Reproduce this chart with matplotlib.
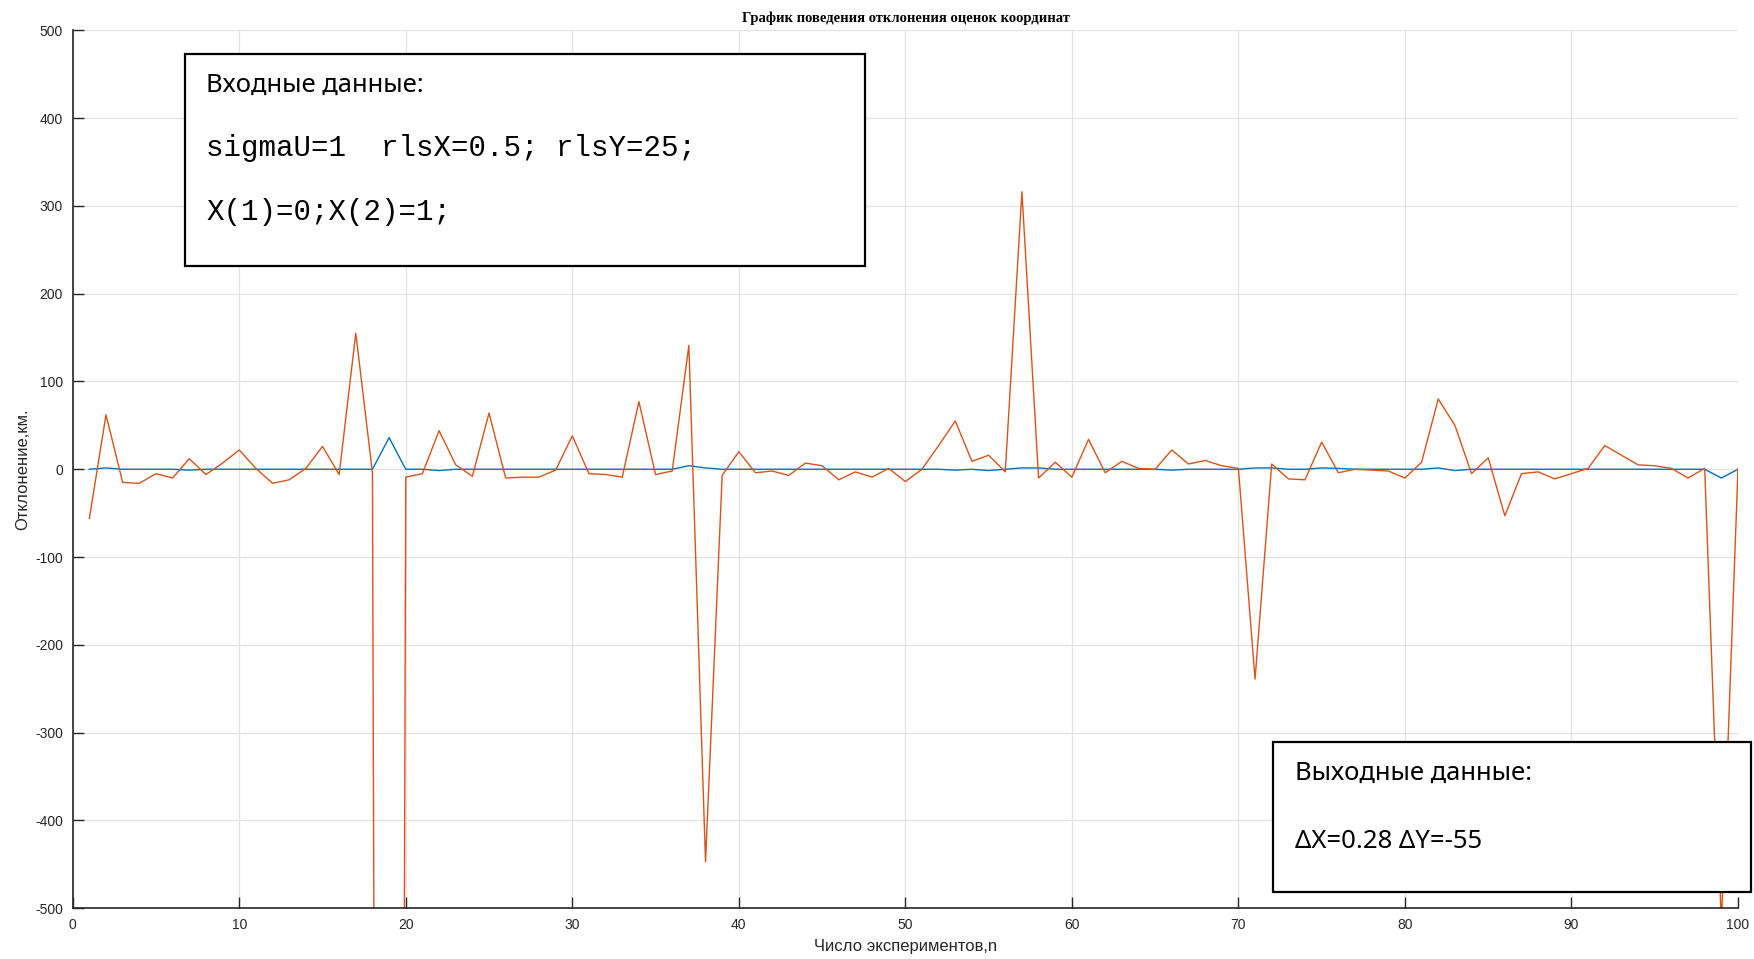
import matplotlib
matplotlib.use("Agg")
import matplotlib.pyplot as plt
from matplotlib.patches import Rectangle
import numpy as np

plt.rcParams["axes.unicode_minus"] = False

# номера экспериментов
n = np.arange(1, 101)

# отклонение по X (синяя линия)
dX = [0, 1.5, 0, 0, 0, 0, -1, 0, 0, 0,
      0, 0, 0, 0, 0, 0, 0, 0, 36, 0,
      0, -1.5, 0, 0, 0, 0, 0, 0, 0, 0,
      0, 0, 0, 0, 0, 0, 4, 1.5, 0, 0,
      0, 0, 0, 0, 0, 0, 0, 0, 0, 0,
      0, 0, -1, 0, -1.5, 0, 1.5, 1.5, 0, 0,
      0, 0, 0, 0, 0, -1, 0, 0, 0, 0,
      1.5, 1.5, 0, 0, 1.5, 1, 0, 0, 0, 0,
      0, 1.5, -1.5, 0, 0, 0, 0, 0, 0, 0,
      0, 0, 0, 0, 0, 0, 0, 0, -10, 0]

# отклонение по Y (оранжевая линия)
dY = [-56, 62, -15, -16, -5, -10, 12, -6, 7, 22,
      1, -16, -12, 1, 26, -6, 155, -4, -6000, -9,
      -5, 44, 5, -8, 64, -10, -9, -9, -1, 38,
      -5, -6, -9, 77, -6, -2, 141, -447, -7, 20,
      -4, -2, -7, 7, 4, -12, -3, -9, 1, -14,
      0, 27, 55, 9, 16, -3, 316, -10, 8, -9,
      34, -4, 9, 1, 0, 22, 6, 10, 4, 1,
      -239, 6, -11, -12, 31, -4, 0, -1, -2, -10,
      8, 80, 50, -5, 13, -53, -5, -3, -11, -5,
      1, 27, 16, 5, 4, 1, -10, 1, -518, 1]

title = "График поведения отклонения оценок координат"
xlabel = "Число экспериментов,n"
ylabel = "Отклонение,км."
vhod = ["Входные данные:", "sigmaU=1  rlsX=0.5; rlsY=25;", "X(1)=0;X(2)=1;"]
vyhod = ["Выходные данные:", "ΔX=0.28 ΔY=-55"]

W, H = 1754, 959
fig = plt.figure(figsize=(W / 100, H / 100), dpi=100)
ax = fig.add_axes([72.7 / W, 1 - 908.3 / H, (1738 - 72.7) / W, (908.3 - 30.2) / H])

ax.plot(n, dX, color="#0072BD", lw=1.0)
ax.plot(n, dY, color="#D95319", lw=1.0)

ax.set_xlim(0, 100)
ax.set_ylim(-500, 500)
ax.set_xticks(np.arange(0, 101, 10))
ax.set_yticks(np.arange(-500, 501, 100))
ax.grid(True, color="#e3e3e3", lw=0.9)
ax.set_axisbelow(True)
for s in ["top", "right"]:
    ax.spines[s].set_visible(False)
for s in ["left", "bottom"]:
    ax.spines[s].set_color("#262626")
    ax.spines[s].set_linewidth(1.2)
ax.tick_params(direction="in", length=8, width=1, color="#262626",
               labelcolor="#262626", labelsize=10, pad=7)
for lab in ax.get_xticklabels() + ax.get_yticklabels():
    lab.set_family("Liberation Sans")

fig.text(906 / W, 1 - 18 / H, title, ha="center", va="center",
         family="Liberation Serif", weight="bold", fontsize=10.5)
fig.text(906 / W, 1 - 947 / H, xlabel, ha="center", va="center",
         family="Liberation Sans", fontsize=12, color="#262626")
fig.text(23 / W, 1 - 469 / H, ylabel, ha="center", va="center", rotation=90,
         family="Liberation Sans", fontsize=12, color="#262626")

# рамки с данными
box1 = Rectangle((184.6 / W, 1 - 266.2 / H), (864.7 - 184.6) / W, (266.2 - 53.7) / H,
                 transform=fig.transFigure, fill=True, facecolor="white",
                 edgecolor="black", lw=1.6, zorder=5)
box2 = Rectangle((1273 / W, 1 - 892 / H), (1751 - 1273) / W, (892 - 742) / H,
                 transform=fig.transFigure, fill=True, facecolor="white",
                 edgecolor="black", lw=1.6, zorder=5)
fig.add_artist(box1)
fig.add_artist(box2)

fig.text(206 / W, 1 - 85 / H, vhod[0], ha="left", va="center", zorder=6,
         family=["Noto Sans", "DejaVu Sans"], fontsize=18.5)
fig.text(206 / W, 1 - 148 / H, vhod[1], ha="left", va="center", zorder=6,
         family="Liberation Mono", fontsize=21)
fig.text(206 / W, 1 - 212 / H, vhod[2], ha="left", va="center", zorder=6,
         family="Liberation Mono", fontsize=21)
fig.text(1295 / W, 1 - 773 / H, vyhod[0], ha="left", va="center", zorder=6,
         family=["Noto Sans", "DejaVu Sans"], fontsize=18.5)
fig.text(1295 / W, 1 - 841 / H, vyhod[1], ha="left", va="center", zorder=6,
         family=["Noto Sans", "DejaVu Sans"], fontsize=18.5)

fig.savefig("out.png", dpi=100)
